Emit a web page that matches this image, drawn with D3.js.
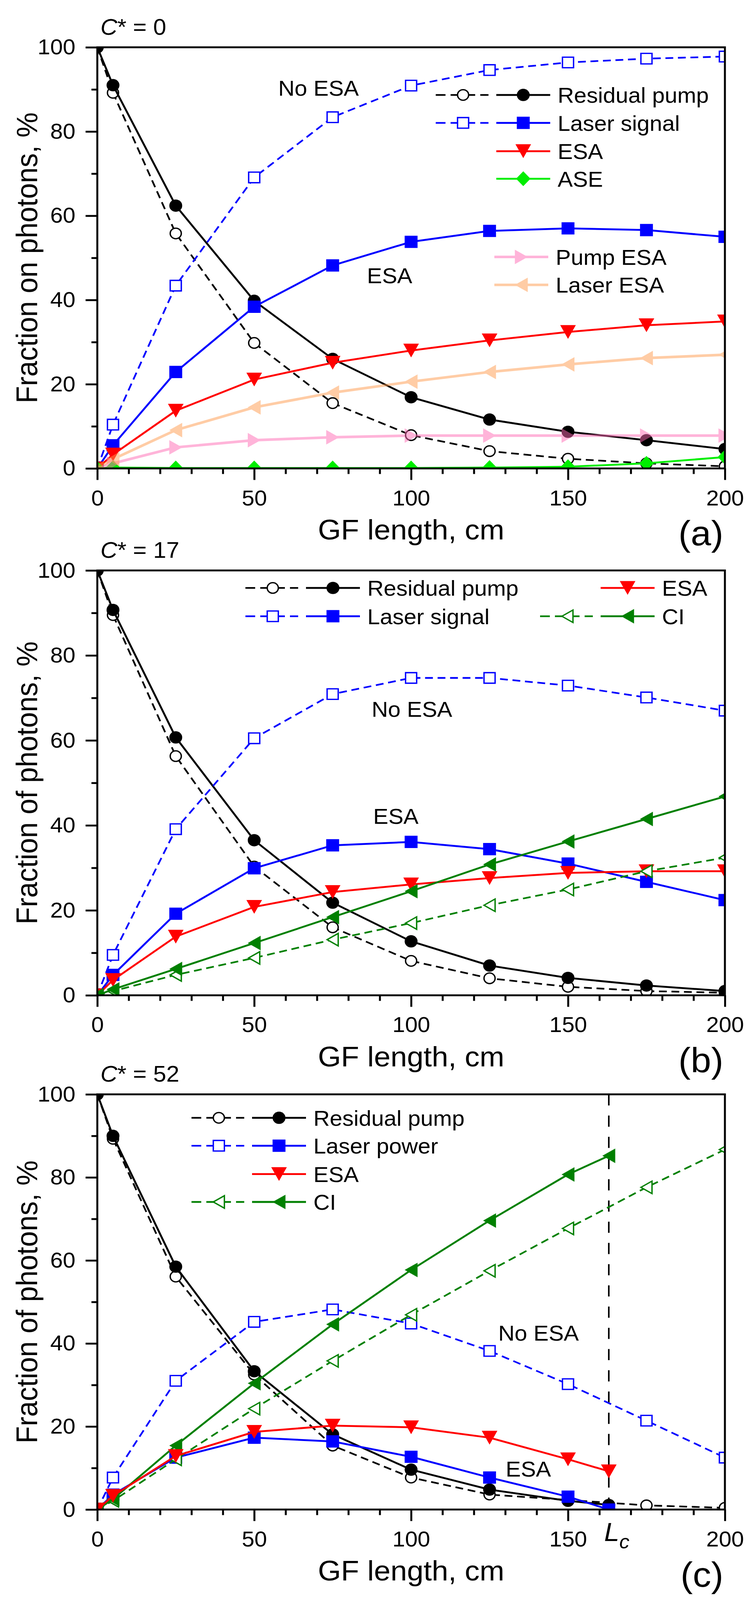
<!DOCTYPE html>
<html>
<head>
<meta charset="utf-8">
<title>Fraction of photons vs GF length</title>
<script src="https://cdn.jsdelivr.net/npm/d3@7"></script>
<style>
  html, body { margin: 0; padding: 0; background: #fff; overflow: hidden; }
  #chart svg { display: block; width: 100vw; height: 100vh; }
  svg text { font-family: "Liberation Sans", Arial, sans-serif; fill: #000; }
</style>
</head>
<body>
<div id="chart"></div>
<script>
// GF length, cm
var lengths = [0, 5, 25, 50, 75, 100, 125, 150, 175, 200];
var lengthsCut = [0, 5, 25, 50, 75, 100, 125, 150, 163];
var Lc = 163;
var xTicks = [0, 50, 100, 150, 200];
var yTicks = [0, 20, 40, 60, 80, 100];

// (a) C* = 0
var aPumpNoEsa  = [100, 89.2, 55.8, 29.8, 15.5, 7.9, 4.1, 2.3, 1.2, 0.5];
var aPump       = [100, 91.0, 62.4, 39.8, 26.0, 16.9, 11.6, 8.7, 6.7, 4.6];
var aLaserNoEsa = [0, 10.4, 43.4, 69.1, 83.4, 90.9, 94.6, 96.4, 97.3, 97.8];
var aLaser      = [0, 5.5, 22.9, 38.4, 48.2, 53.8, 56.4, 57.0, 56.6, 55.0];
var aEsa        = [0, 3.3, 13.7, 21.1, 25.1, 28.0, 30.4, 32.4, 34.0, 34.9];
var aAse        = [0, 0.2, 0.1, 0.1, 0.1, 0.1, 0.2, 0.4, 1.2, 2.7];
var aPumpEsa    = [0, 1.2, 5.0, 6.7, 7.4, 7.8, 7.8, 7.8, 7.8, 7.8];
var aLaserEsa   = [0, 2.2, 9.1, 14.5, 18.0, 20.6, 22.9, 24.7, 26.2, 27.0];

// (b) C* = 17
var bPumpNoEsa  = [100, 89.5, 56.3, 30.3, 16.0, 8.1, 4.0, 2.0, 1.0, 0.6];
var bPump       = [100, 90.7, 60.7, 36.5, 21.8, 12.7, 7.0, 4.1, 2.3, 1.0];
var bLaserNoEsa = [0, 9.5, 39.1, 60.5, 70.9, 74.7, 74.7, 72.9, 70.1, 67.0];
var bLaser      = [0, 4.8, 19.2, 29.9, 35.3, 36.1, 34.4, 31.0, 26.7, 22.4];
var bEsa        = [0, 3.6, 13.8, 20.8, 24.3, 26.1, 27.6, 28.8, 29.2, 29.2];
var bCiNoEsa    = [0, 1.0, 4.8, 8.8, 13.1, 17.0, 21.2, 24.9, 29.2, 32.4];
var bCi         = [0, 1.4, 6.2, 12.3, 18.4, 24.5, 30.8, 36.2, 41.5, 46.8];

// (c) C* = 52 (ESA curves stop at Lc)
var cPumpNoEsa  = [100, 89.3, 56.1, 32.5, 15.4, 7.7, 3.6, 2.3, 1.0, 0.4];
var cPump       = [100, 90.0, 58.5, 33.3, 18.1, 9.6, 4.8, 2.1, 1.1];
var cLaserNoEsa = [0, 7.7, 31.0, 45.2, 48.2, 44.8, 38.2, 30.2, 21.4, 12.5];
var cLaser      = [0, 3.6, 12.5, 17.3, 16.4, 12.7, 7.7, 3.1, 0];
var cEsa        = [0, 3.3, 12.9, 18.7, 20.2, 19.8, 17.3, 12.1, 9.2];
var cCiNoEsa    = [0, 2.1, 12.1, 24.3, 35.8, 46.9, 57.5, 67.7, 77.6, 86.7];
var cCi         = [0, 2.5, 15.4, 30.4, 44.6, 57.7, 69.6, 80.7, 85.2];

var styles = {
  pumpNoEsa:  {color: "#000000", dash: true,  marker: "circle",  open: true},
  pump:       {color: "#000000", dash: false, marker: "circle",  open: false},
  laserNoEsa: {color: "#0000ff", dash: true,  marker: "square",  open: true},
  laser:      {color: "#0000ff", dash: false, marker: "square",  open: false},
  esa:        {color: "#ff0000", dash: false, marker: "triDown", open: false},
  ase:        {color: "#00ee00", dash: false, marker: "diamond", open: false},
  pumpEsa:    {color: "#ff6ab4", dash: false, marker: "triRight", open: false, alpha: 0.5, width: 7},
  laserEsa:   {color: "#ff9a4d", dash: false, marker: "triLeft", open: false, alpha: 0.5, width: 7},
  ciNoEsa:    {color: "#008000", dash: true,  marker: "triLeft", open: true},
  ci:         {color: "#008000", dash: false, marker: "triLeft", open: false}
};

var W = 1932, H = 4297;
var left = 249, right = 1855;

var panels = [
  {id: "a", top: 127, bottom: 1258, cstar: "0", tag: "(a)", ylabel: "Fraction on photons, %",
   series: [["pumpNoEsa", lengths, aPumpNoEsa], ["pump", lengths, aPump],
            ["laserNoEsa", lengths, aLaserNoEsa], ["laser", lengths, aLaser],
            ["esa", lengths, aEsa], ["ase", lengths, aAse],
            ["pumpEsa", lengths, aPumpEsa], ["laserEsa", lengths, aLaserEsa]],
   legend: [[1115, 255, "pumpNoEsa", "pump", "Residual pump"],
            [1115, 330, "laserNoEsa", "laser", "Laser signal"],
            [1115, 406, null, "esa", "ESA"],
            [1115, 480, null, "ase", "ASE"],
            [1110, 690, null, "pumpEsa", "Pump ESA"],
            [1110, 765, null, "laserEsa", "Laser ESA"]],
   notes: [[712, 236, "No ESA"], [939, 740, "ESA"]]},
  {id: "b", top: 1532, bottom: 2673, cstar: "17", tag: "(b)", ylabel: "Fraction of photons, %",
   series: [["pumpNoEsa", lengths, bPumpNoEsa], ["pump", lengths, bPump],
            ["laserNoEsa", lengths, bLaserNoEsa], ["laser", lengths, bLaser],
            ["esa", lengths, bEsa],
            ["ciNoEsa", lengths, bCiNoEsa], ["ci", lengths, bCi]],
   legend: [[628, 1579, "pumpNoEsa", "pump", "Residual pump"],
            [628, 1655, "laserNoEsa", "laser", "Laser signal"],
            [1382, 1579, null, "esa", "ESA"],
            [1382, 1655, "ciNoEsa", "ci", "CI"]],
   notes: [[951, 1904, "No ESA"], [955, 2191, "ESA"]]},
  {id: "c", top: 2939, bottom: 4054, cstar: "52", tag: "(c)", ylabel: "Fraction of photons, %", cutoff: Lc,
   series: [["pumpNoEsa", lengths, cPumpNoEsa], ["pump", lengthsCut, cPump],
            ["laserNoEsa", lengths, cLaserNoEsa], ["laser", lengthsCut, cLaser],
            ["ciNoEsa", lengths, cCiNoEsa], ["ci", lengthsCut, cCi],
            ["esa", lengthsCut, cEsa]],
   legend: [[490, 3002, "pumpNoEsa", "pump", "Residual pump"],
            [490, 3077, "laserNoEsa", "laser", "Laser power"],
            [490, 3153, null, "esa", "ESA"],
            [490, 3228, "ciNoEsa", "ci", "CI"]],
   notes: [[1275, 3579, "No ESA"], [1294, 3944, "ESA"]]}
];

// marker outline centred on its bounding box
function markerPath(type, open) {
  var s = open ? 0.86 : 1;
  if (type === "circle") {
    var r = 16.5 * s;
    return "M" + (-r) + ",0A" + r + "," + r + " 0 1,0 " + r + ",0A" + r + "," + r + " 0 1,0 " + (-r) + ",0Z";
  }
  if (type === "square") {
    var h = 16.5 * s;
    return "M" + (-h) + "," + (-h) + "H" + h + "V" + h + "H" + (-h) + "Z";
  }
  if (type === "triDown") return "M-20,-18.5L20,-18.5L0,18.5Z";
  if (type === "diamond") return "M0,-20L18.5,0L0,20L-18.5,0Z";
  var w = 16.5 * s, t = 19.5 * s;
  if (type === "triLeft") return "M" + (-w) + ",0L" + w + "," + (-t) + "L" + w + "," + t + "Z";
  return "M" + w + ",0L" + (-w) + "," + (-t) + "L" + (-w) + "," + t + "Z";
}

function drawMarker(g, st, cx, cy) {
  g.append("path")
    .attr("d", markerPath(st.marker, st.open))
    .attr("transform", "translate(" + cx + "," + cy + ")")
    .attr("fill", st.open ? "#fff" : st.color)
    .attr("stroke", st.open ? st.color : "none")
    .attr("stroke-width", 3.5);
}

function lineStyle(sel, st) {
  sel.attr("fill", "none")
    .attr("stroke", st.color)
    .attr("stroke-width", st.width || (st.dash ? 4.5 : 5))
    .attr("stroke-dasharray", st.dash ? "20,12" : null);
}

// scaled to whatever viewport the page gets, so the bottom panel is never cut
var svg = d3.select("#chart").append("svg")
  .attr("viewBox", "0 0 " + W + " " + H)
  .attr("preserveAspectRatio", "none");

panels.forEach(function(p) {
  var x = d3.scaleLinear().domain([0, 200]).range([left, right]);
  var y = d3.scaleLinear().domain([0, 100]).range([p.bottom, p.top]);
  var g = svg.append("g");

  svg.append("clipPath").attr("id", "clip-" + p.id)
    .append("rect")
    .attr("x", left).attr("y", p.top)
    .attr("width", right - left).attr("height", p.bottom - p.top);

  var plot = g.append("g").attr("clip-path", "url(#clip-" + p.id + ")");

  if (p.cutoff) {
    plot.append("line")
      .attr("x1", x(p.cutoff)).attr("x2", x(p.cutoff))
      .attr("y1", y(100)).attr("y2", y(0))
      .attr("stroke", "#000").attr("stroke-width", 4)
      .attr("stroke-dasharray", "30,27");
  }

  var line = d3.line().x(function(d) { return x(d[0]); }).y(function(d) { return y(d[1]); });

  p.series.forEach(function(s) {
    var st = styles[s[0]];
    var pts = s[1].map(function(v, i) { return [v, s[2][i]]; });
    var sg = plot.append("g").attr("opacity", st.alpha || 1);
    sg.append("path").datum(pts).attr("d", line).call(lineStyle, st);
    pts.forEach(function(d) { drawMarker(sg, st, x(d[0]), y(d[1])); });
  });

  // axes
  var axes = g.append("g");
  axes.append("g").attr("transform", "translate(" + left + ",0)")
    .call(d3.axisLeft(y).tickValues(yTicks).tickSize(30).tickPadding(26).tickFormat(d3.format("d")));
  axes.append("g").attr("transform", "translate(" + left + ",0)")
    .call(d3.axisLeft(y).tickValues(d3.range(10, 100, 20)).tickSize(15).tickFormat(""));
  axes.append("g").attr("transform", "translate(0," + p.bottom + ")")
    .call(d3.axisBottom(x).tickValues(xTicks).tickSize(31).tickPadding(27).tickFormat(d3.format("d")));
  axes.append("g").attr("transform", "translate(0," + p.bottom + ")")
    .call(d3.axisBottom(x).tickValues(d3.range(10, 200, 10).filter(function(v) { return v % 50; }))
      .tickSize(15).tickFormat(""));
  axes.selectAll(".domain").remove();
  axes.selectAll("g").attr("font-size", 58).attr("font-family", "Liberation Sans, Arial, sans-serif");
  axes.selectAll(".tick line").attr("stroke", "#000").attr("stroke-width", 5);
  axes.selectAll(".tick text").attr("fill", "#000");

  g.append("rect")
    .attr("x", left).attr("y", p.top)
    .attr("width", right - left).attr("height", p.bottom - p.top)
    .attr("fill", "none").attr("stroke", "#000").attr("stroke-width", 5);

  if (p.cutoff) {
    var lc = g.append("text").attr("x", x(p.cutoff) - 12).attr("y", p.bottom + 85)
      .attr("font-size", 70).attr("font-style", "italic");
    lc.append("tspan").text("L");
    lc.append("tspan").attr("font-size", 52).attr("dy", 20).text("c");
  }

  // titles
  var ct = g.append("text").attr("x", 257).attr("y", p.top - 34).attr("font-size", 60);
  ct.append("tspan").attr("font-style", "italic").text("C");
  ct.append("tspan").text("* = " + p.cstar);

  g.append("text").attr("x", (left + right) / 2).attr("y", p.bottom + 191)
    .attr("text-anchor", "middle").attr("font-size", 76).text("GF length, cm");

  g.append("text").attr("x", 1851).attr("y", p.bottom + 207)
    .attr("text-anchor", "end").attr("font-size", 94).text(p.tag);

  g.append("text")
    .attr("transform", "translate(95," + ((p.top + p.bottom) / 2) + ") rotate(-90)")
    .attr("text-anchor", "middle").attr("font-size", 76).text(p.ylabel);

  p.notes.forEach(function(n) {
    g.append("text").attr("x", n[0]).attr("y", n[1] + 21).attr("font-size", 58).text(n[2]);
  });

  // legend
  p.legend.forEach(function(row) {
    var L = row[0], ry = row[1];
    if (row[2]) {
      var ds = styles[row[2]];
      g.append("line").attr("x1", L).attr("x2", L + 135).attr("y1", ry).attr("y2", ry)
        .call(lineStyle, ds).attr("stroke-dasharray", "25,13");
      drawMarker(g, ds, L + 70, ry);
    }
    var ss = styles[row[3]];
    var lg = g.append("g").attr("opacity", ss.alpha || 1);
    lg.append("line").attr("x1", L + 155).attr("x2", L + 293).attr("y1", ry).attr("y2", ry)
      .call(lineStyle, ss);
    drawMarker(lg, ss, L + 224, ry);
    g.append("text").attr("x", L + 312).attr("y", ry + 21).attr("font-size", 58).text(row[4]);
  });
});
</script>
</body>
</html>
